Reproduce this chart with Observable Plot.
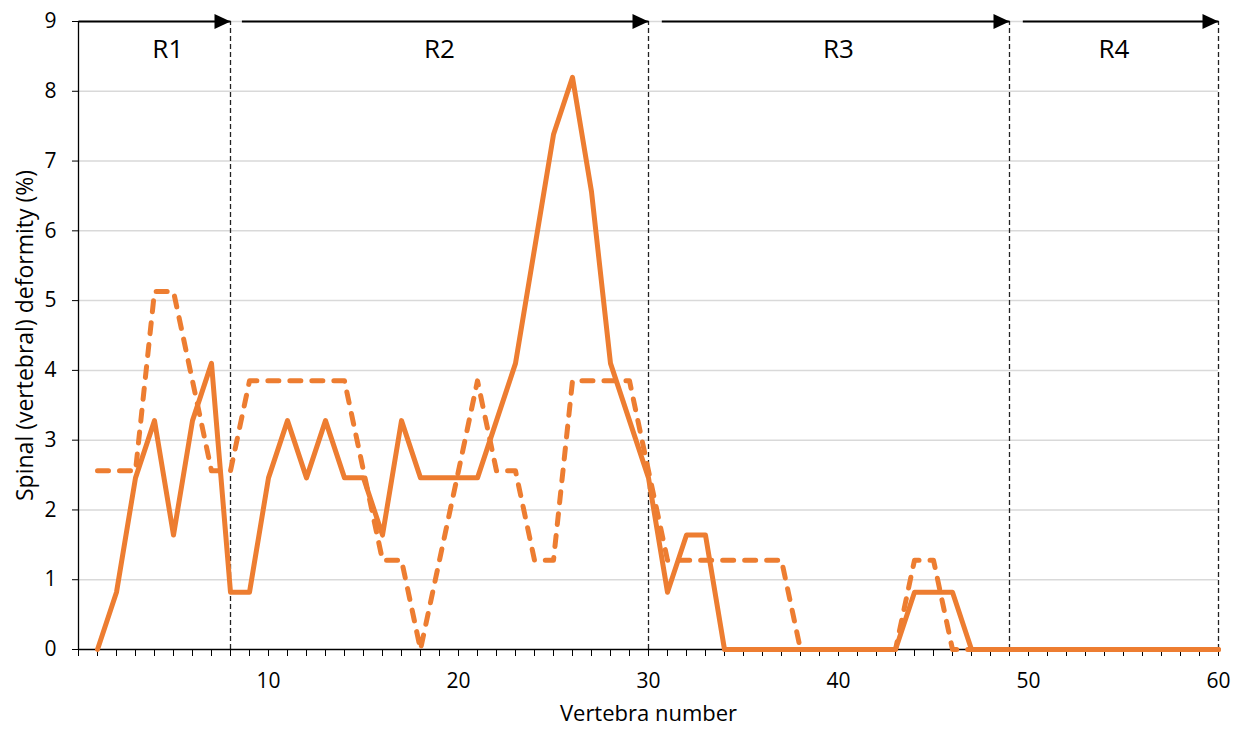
<!DOCTYPE html>
<html><head><meta charset="utf-8">
<script src="https://cdn.jsdelivr.net/npm/d3@7"></script>
<script src="https://cdn.jsdelivr.net/npm/@observablehq/plot@0.6"></script>
<style>
body{margin:0;background:#fff;}
#chart svg{font-family:"Open Sans",sans-serif;}
</style></head><body><div id="chart"></div>
<script>
const vertebra = [1,2,3,4,5,6,7,8,9,10,11,12,13,14,15,16,17,18,19,20,21,22,23,24,25,26,27,28,29,30,31,32,33,34,35,36,37,38,39,40,41,42,43,44,45,46,47,48,49,50,51,52,53,54,55,56,57,58,59,60];
const solidSeries = [0,0.82,2.46,3.28,1.64,3.28,4.10,0.82,0.82,2.46,3.28,2.46,3.28,2.46,2.46,1.64,3.28,2.46,2.46,2.46,2.46,3.28,4.10,5.74,7.38,8.20,6.56,4.10,3.28,2.46,0.82,1.64,1.64,0,0,0,0,0,0,0,0,0,0,0.82,0.82,0.82,0,0,0,0,0,0,0,0,0,0,0,0,0,0];
const dashedSeries = [2.56,2.56,2.56,5.13,5.13,3.85,2.56,2.56,3.85,3.85,3.85,3.85,3.85,3.85,2.56,1.28,1.28,0,1.28,2.56,3.85,2.56,2.56,1.28,1.28,3.85,3.85,3.85,3.85,2.56,1.28,1.28,1.28,1.28,1.28,1.28,1.28,0,0,0,0,0,0,1.28,1.28,0,0,0,0,0,0,0,0,0,0,0,0,0,0,0];
const regionNames = ["R1","R2","R3","R4"];
const regionLabelX = [4.7,19,40,54.5];
const boundaries = [8,30,49,60];
const arrowFrom = [0,8.6,30.7,49.7];
const arrowTo = [8,30,49,60];
const yTicks = [0,1,2,3,4,5,6,7,8,9];
const xTicks = [0,1,2,3,4,5,6,7,8,9,10,11,12,13,14,15,16,17,18,19,20,21,22,23,24,25,26,27,28,29,30,31,32,33,34,35,36,37,38,39,40,41,42,43,44,45,46,47,48,49,50,51,52,53,54,55,56,57,58,59,60];
const xLabels = [10,20,30,40,50,60];
const xTitle = "Vertebra number";
const yTitle = "Spinal (vertebral) deformity (%)";

const orange = "#ED7D31";
const solidData = vertebra.map((v,i)=>({x:v,y:solidSeries[i]}));
const dashedData = vertebra.map((v,i)=>({x:v,y:dashedSeries[i]}));
const arrowData = arrowFrom.map((d,i)=>({x1:d,x2:arrowTo[i]}));
const regionData = regionNames.map((n,i)=>({name:n,x:regionLabelX[i]}));
const arrowHead = {draw(ctx){ctx.moveTo(0,0);ctx.lineTo(-16,-7.5);ctx.lineTo(-16,7.5);ctx.closePath();}};

const chart = Plot.plot({
  width:1233, height:729,
  marginLeft:78, marginRight:15, marginTop:21, marginBottom:80,
  x:{domain:[0,60]},
  y:{domain:[0,9]},
  style:{fontFamily:"'Open Sans', sans-serif", fontSize:"21px", color:"#000", background:"#fff", overflow:"visible"},
  marks:[
    Plot.gridY(yTicks.filter(d=>d>0), {stroke:"#d9d9d9", strokeOpacity:1, strokeWidth:1.5}),
    Plot.ruleX(boundaries, {y1:0, y2:9, stroke:"#222", strokeWidth:1.3, strokeDasharray:"5,3"}),
    Plot.ruleY([0], {stroke:"#000", strokeWidth:1.3}),
    Plot.ruleX([0], {stroke:"#000", strokeWidth:1.3}),
    Plot.axisX({ticks:xTicks, tickSize:7, tickPadding:17, tickFormat:d=>xLabels.includes(d)?String(d):"", fontSize:21, label:null}),
    Plot.axisY({ticks:yTicks, tickSize:6, tickPadding:16, fontSize:21, label:null}),
    Plot.line(dashedData, {x:"x", y:"y", stroke:orange, strokeWidth:5, strokeDasharray:"11,11", strokeLinecap:"round", strokeLinejoin:"round"}),
    Plot.line(solidData, {x:"x", y:"y", stroke:orange, strokeWidth:5, strokeLinejoin:"round", strokeLinecap:"round"}),
    Plot.link(arrowData, {x1:"x1", x2:"x2", y1:9, y2:9, stroke:"#000", strokeWidth:2}),
    Plot.dot(arrowTo, {x:d=>d, y:9, symbol:arrowHead, fill:"#000", stroke:"none", r:5}),
    Plot.text(regionData, {x:"x", y:8.6, text:"name", fontSize:26}),
    Plot.text([xTitle], {text:d=>d, frameAnchor:"bottom", dy:71, fontSize:22}),
    Plot.text([yTitle], {text:d=>d, frameAnchor:"left", textAnchor:"middle", dx:-53, rotate:-90, fontSize:23})
  ]
});
document.getElementById("chart").appendChild(chart);
</script></body></html>
